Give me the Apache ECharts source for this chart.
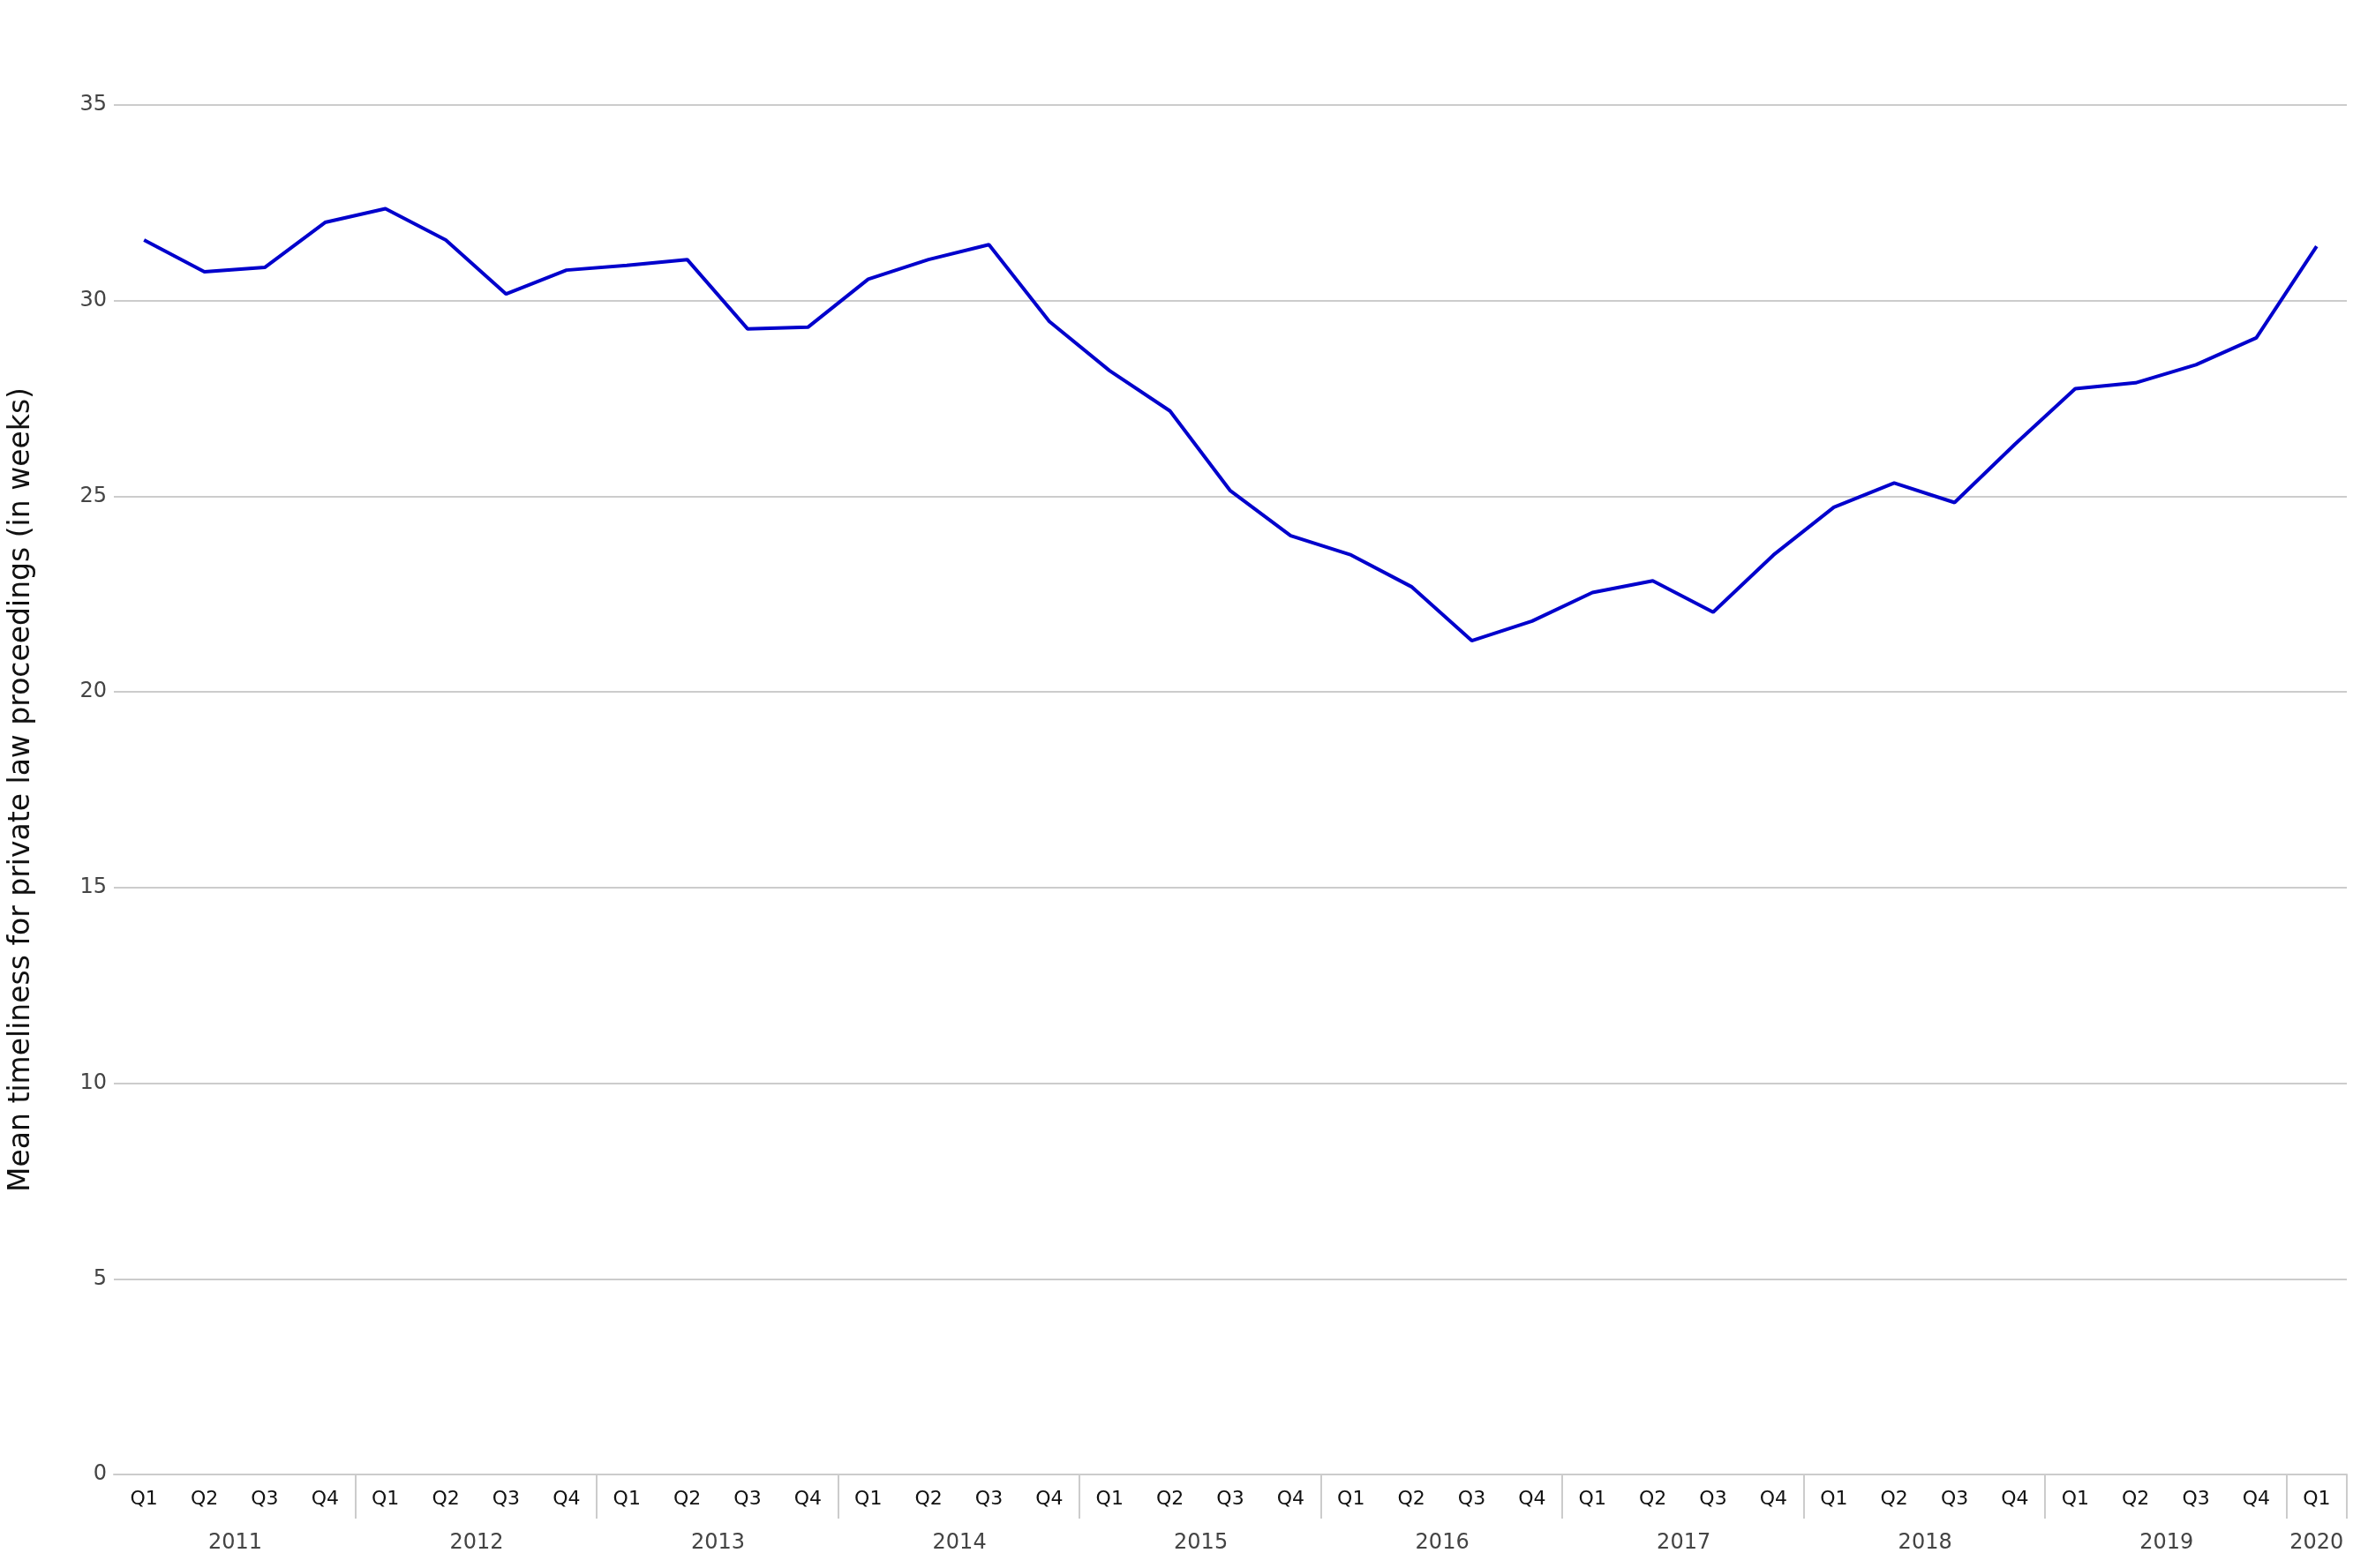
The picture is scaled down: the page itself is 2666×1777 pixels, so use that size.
<!DOCTYPE html>
<html><head><meta charset="utf-8">
<script src="https://cdn.jsdelivr.net/npm/echarts@6/dist/echarts.min.js"></script>
<style>html,body{margin:0;padding:0;background:#fff}#c{width:2666px;height:1777px}</style>
</head><body><div id="c"></div>
<script>
const years = ['2011','2012','2013','2014','2015','2016','2017','2018','2019','2020'];
const quarters = ['Q1','Q2','Q3','Q4'];
const values = [31.55,30.74,30.85,32.0, 32.35,31.55,30.17,30.78, 30.9,31.05,29.28,29.32,
  30.55,31.05,31.43,29.47, 28.21,27.18,25.14,23.99, 23.5,22.69,21.31,21.81,
  22.54,22.84,22.04,23.5, 24.72,25.34,24.84,26.33, 27.75,27.9,28.36,29.05, 31.39];
const cats = [], qLab = [], yLab = [];
values.forEach((v,i)=>{const y=years[Math.floor(i/4)];cats.push(y+' '+quarters[i%4]);qLab.push(quarters[i%4]);yLab.push(y);});
const font='DejaVu Sans';
const chart = echarts.init(document.getElementById('c'));
chart.setOption({
  animation:false,
  grid:{left:93,right:7,top:119,bottom:106},
  xAxis:[{
    type:'category',data:cats,boundaryGap:true,
    axisLine:{lineStyle:{color:'#ccc',width:2}},
    axisTick:{show:true,length:50,lineStyle:{color:'#ccc',width:2},interval:(i)=>i>0&&i%4===0},
    axisLabel:{formatter:(v,i)=>qLab[i],interval:0,fontFamily:font,fontSize:22,color:'#111',margin:17}
  },{
    type:'category',data:cats,boundaryGap:true,position:'bottom',
    axisLine:{show:false},axisTick:{show:false},
    axisLabel:{interval:(i)=>i%4===1||i===36,fontFamily:font,fontSize:24,color:'#444',margin:66,
      formatter:(v,i)=>i===36?'{b|'+yLab[i]+'}':'{a|'+yLab[i]+'}',
      rich:{a:{padding:[0,0,0,70],fontFamily:font,fontSize:24,color:'#444'},b:{fontFamily:font,fontSize:24,color:'#444'}}}
  }],
  yAxis:{type:'value',min:0,max:35,interval:5,
    name:'Mean timeliness for private law proceedings (in weeks)',nameLocation:'middle',nameGap:58,
    nameTextStyle:{fontFamily:font,fontSize:33,color:'#111',padding:[0,0,30,0]},
    axisLine:{show:false},axisTick:{show:false},
    axisLabel:{fontFamily:font,fontSize:24,color:'#444',margin:8},
    splitLine:{lineStyle:{color:'#ccc',width:2}}},
  series:[{type:'line',data:values,xAxisIndex:0,symbol:'none',lineStyle:{color:'#0000cc',width:4}}]
});
</script></body></html>
